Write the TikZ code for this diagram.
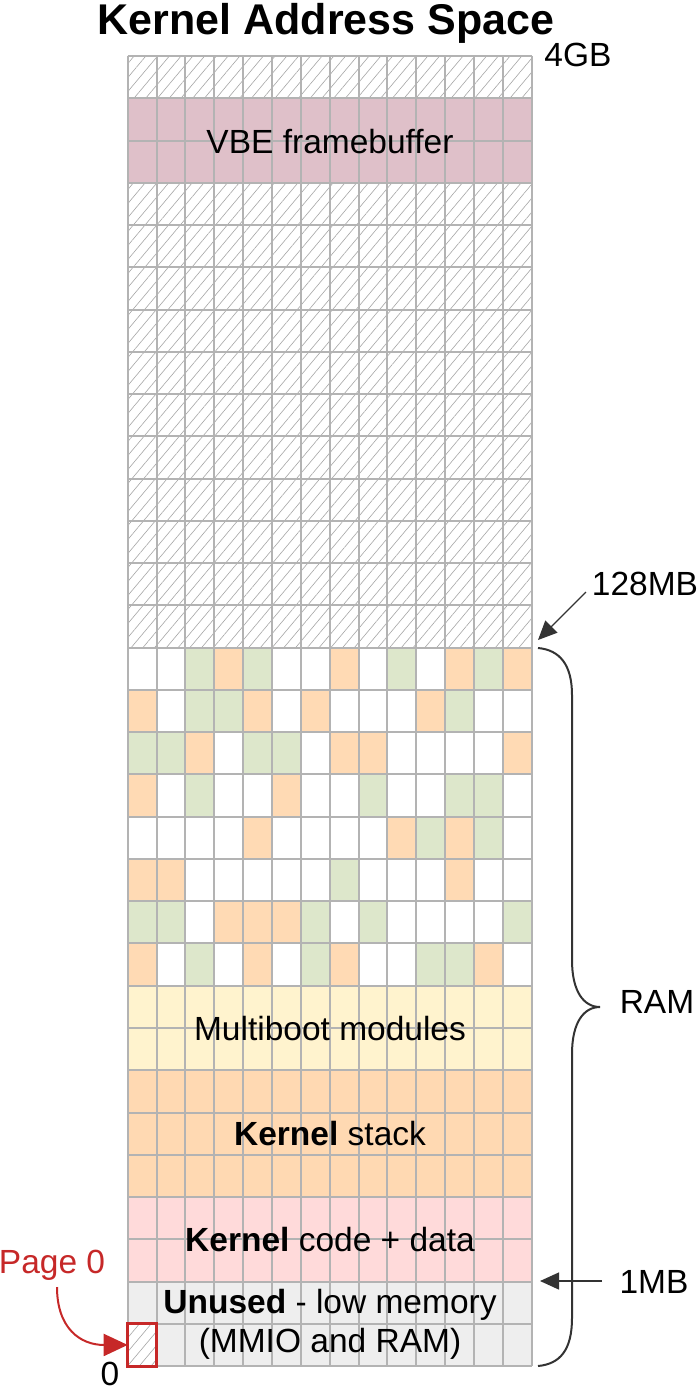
\documentclass[tikz,border=0pt]{standalone}
\usepackage{fontspec}
\setmainfont{Liberation Sans}
\usetikzlibrary{arrows.meta,patterns.meta}
\definecolor{gridc}{HTML}{B3B3B3}
\definecolor{hatchc}{HTML}{A6A6A6}
\definecolor{cellW}{HTML}{FFFFFF}
\definecolor{cellG}{HTML}{DDE7CB}
\definecolor{cellO}{HTML}{FFDAB4}
\definecolor{vbec}{HTML}{DFC0C9}
\definecolor{multic}{HTML}{FFF3CE}
\definecolor{stackc}{HTML}{FFD9B2}
\definecolor{codec}{HTML}{FFDADA}
\definecolor{unusedc}{HTML}{EEEEEE}
\definecolor{pagered}{HTML}{C62828}
\definecolor{darkc}{HTML}{333333}
\newcommand\myband[3]{\path[#3] ({\xo},{\yo+#1*\rh}) rectangle ({\xo+14*\cw},{\yo+(#2+1)*\rh});}
\tikzset{
  hatch/.style={fill=white, postaction={pattern={Lines[angle=50,distance=9pt,line width=0.6pt]}, pattern color=hatchc}},
  gridline/.style={draw=gridc, line width=2pt},
  lbl/.style={font=\fontsize{33.5}{40}\selectfont, text=black, inner sep=0pt},
  darkarrow/.style={draw=darkc, line width=1.4pt, -{Triangle[length=19pt,width=17pt]}},
  bracestyle/.style={draw=darkc, line width=2pt},
}
\begin{document}
\begin{tikzpicture}[x=1pt,y=-1pt]
\useasboundingbox (0,0) rectangle (699,1392);
\def\xo{127.7}\def\yo{56}\def\cw{28.86}\def\rh{42.26}
% bands
\myband{0}{0}{hatch}
\myband{1}{2}{fill=vbec}
\myband{3}{13}{hatch}
\myband{22}{23}{fill=multic}
\myband{24}{26}{fill=stackc}
\myband{27}{28}{fill=codec}
\myband{29}{30}{fill=unusedc}
% random RAM pages
\foreach \r/\rowlist in {
  14/{W,W,G,O,G,W,W,O,W,G,W,O,G,O},
  15/{O,W,G,G,O,W,O,W,W,W,O,G,W,W},
  16/{G,G,O,W,G,G,W,O,O,W,W,W,W,O},
  17/{O,W,G,W,W,O,W,W,G,W,W,G,G,W},
  18/{W,W,W,W,O,W,W,W,W,O,G,O,G,W},
  19/{O,O,W,W,W,W,W,G,W,W,W,O,W,W},
  20/{G,G,W,O,O,O,G,W,G,W,W,W,W,G},
  21/{O,W,G,W,O,W,G,O,W,W,G,G,O,W}} {
  \foreach \cc [count=\ci from 0] in \rowlist {
    \fill[cell\cc] ({\xo+\ci*\cw},{\yo+\r*\rh}) rectangle ++(\cw,\rh);
  }
}
% page 0 cell
\path[hatch] ({\xo},{\yo+30*\rh}) rectangle ++(\cw,\rh);
% grid
\foreach \c in {0,...,14} \draw[gridline] ({\xo+\c*\cw},{\yo}) -- ({\xo+\c*\cw},{\yo+31*\rh});
\foreach \r in {0,...,31} \draw[gridline] ({\xo},{\yo+\r*\rh}) -- ({\xo+14*\cw},{\yo+\r*\rh});
% page 0 box
\node[draw=pagered, line width=3pt, minimum width=\cw pt, minimum height=\rh pt, inner sep=0pt, outer sep=0pt, anchor=north west] (page0box) at ({\xo},{\yo+30*\rh}) {};
% labels in the map
\node[lbl, anchor=base] (vbe) at (330,153) {VBE framebuffer};
\node[lbl, anchor=base] (multi) at (330,1040) {Multiboot modules};
\node[lbl, anchor=base] (kstack) at (330,1145) {\textbf{Kernel} stack};
\node[lbl, anchor=base] (kcode) at (330,1251) {\textbf{Kernel} code + data};
\node[lbl, anchor=base] (unused1) at (330,1313) {\textbf{Unused} - low memory};
\node[lbl, anchor=base] (unused2) at (330,1352) {(MMIO and RAM)};
% title
\node[font=\fontsize{43}{50}\selectfont\bfseries, inner sep=0pt, anchor=base] (title) at (326,34) {Kernel Address Space};
% side labels
\node[lbl, anchor=base] (l4gb) at (578,66) {4GB};
\node[lbl, anchor=base] (l128) at (645,595) {128MB};
\node[lbl, anchor=base] (lram) at (657,1013) {RAM};
\node[lbl, anchor=base] (l1mb) at (654,1293) {1MB};
\node[lbl, anchor=base] (lzero) at (110,1385) {0};
\node[lbl, anchor=base, text=pagered] (lpage0) at (52,1273) {Page 0};
% arrows
\coordinate (a128s) at (586,592);
\coordinate (a128e) at (538,640);
\draw[darkarrow, line width=1.2pt] (a128s) -- (a128e);
\coordinate (a1mbs) at (602,1281);
\coordinate (a1mbe) at (540,1281);
\draw[darkarrow] (a1mbs) -- (a1mbe);
\coordinate (p0s) at (57,1287);
\draw[draw=pagered, line width=2pt, -{Triangle[length=24pt,width=22pt]}] (p0s) .. controls (57,1328) and (80,1345) .. (page0box.west);
% brace
\coordinate (btop) at (538,648);
\coordinate (bbot) at (538,1366);
\coordinate (btip) at (600,1007);
\draw[bracestyle] (btop) .. controls (560,650) and (572,665) .. (572,695) -- (572,960) .. controls (572,992) and (584,1007) .. (btip) .. controls (584,1007) and (572,1022) .. (572,1054) -- (572,1318) .. controls (572,1350) and (560,1364) .. (bbot);
\end{tikzpicture}
\end{document}
